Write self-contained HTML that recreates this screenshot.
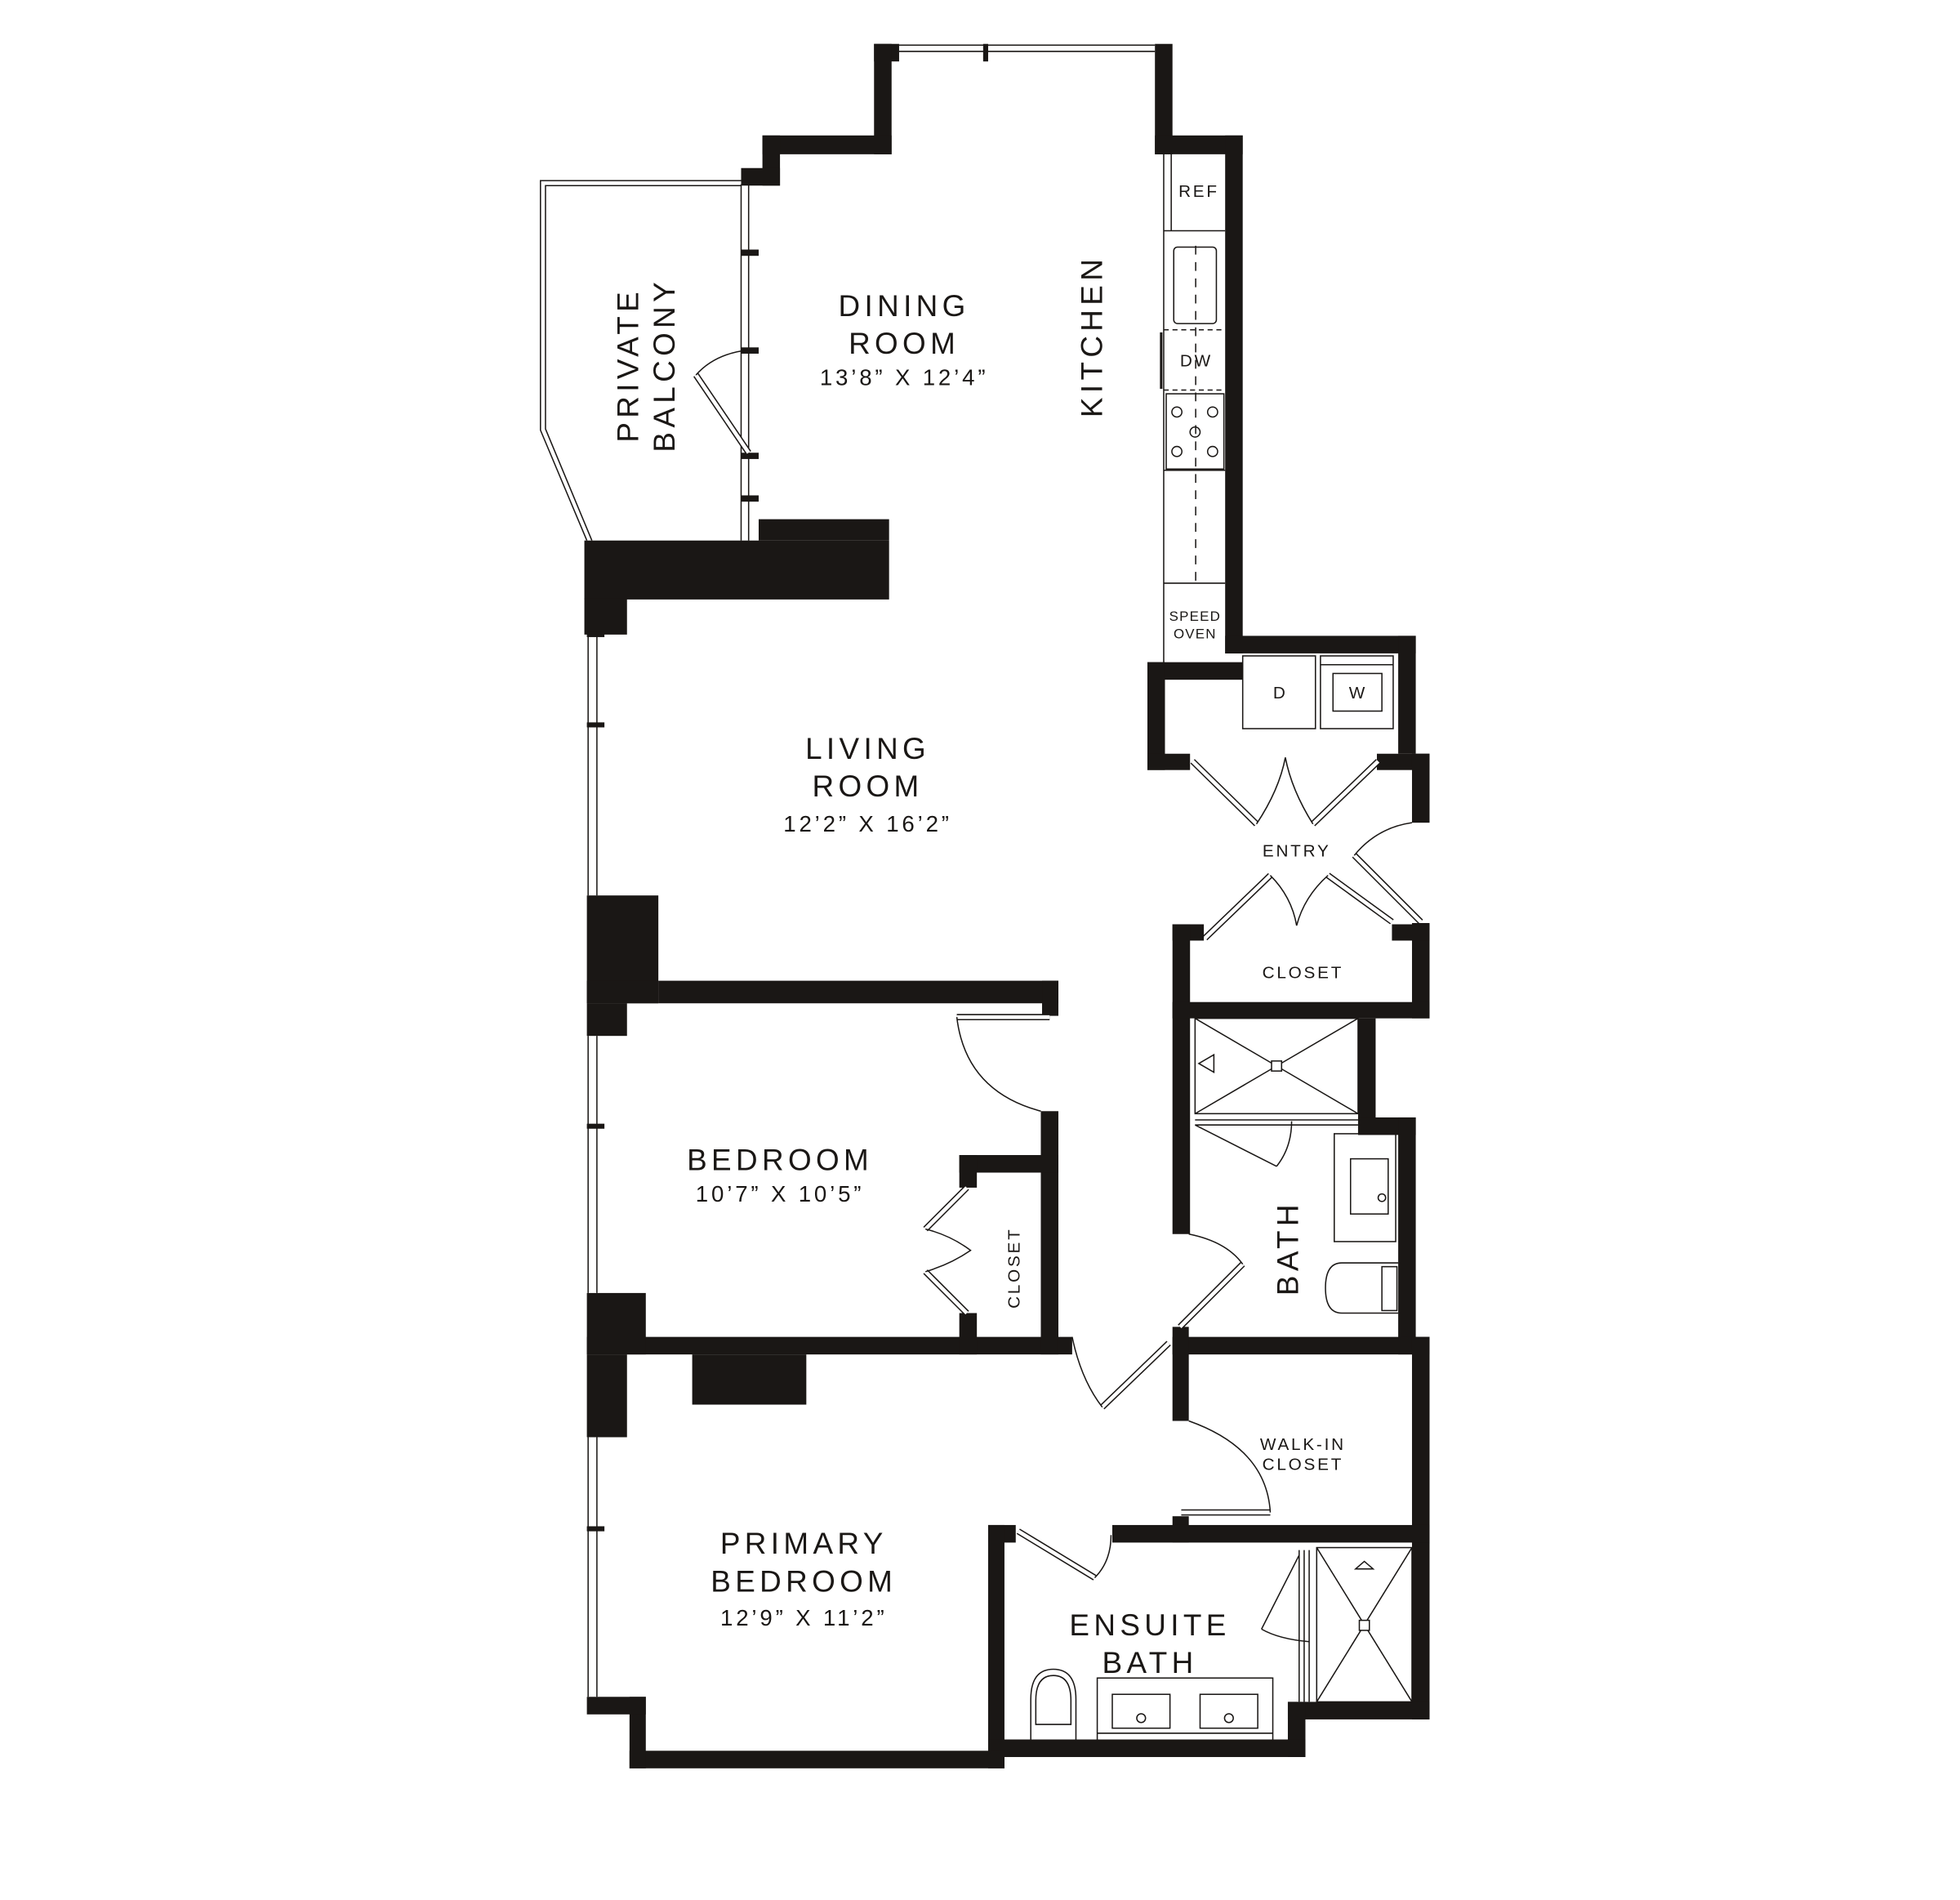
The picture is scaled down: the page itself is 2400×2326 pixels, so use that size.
<!DOCTYPE html>
<html><head><meta charset="utf-8">
<style>
html,body{margin:0;padding:0;background:#fff;}
svg{display:block;}
text{font-family:"Liberation Sans",sans-serif;fill:#1a1715;text-anchor:middle;}
.rn{font-size:24px;letter-spacing:3.5px;}
.dm{font-size:18px;letter-spacing:2.5px;}
.sm{font-size:13.5px;letter-spacing:1.8px;}
.xs{font-size:11px;letter-spacing:0.8px;}
.t{fill:none;stroke:#1a1715;stroke-width:1;}
.leaf{stroke:#1a1715;stroke-width:5;}
.leafw{stroke:#fff;stroke-width:3;}
</style></head>
<body>
<svg width="2400" height="2326" viewBox="0 0 1563 1515" preserveAspectRatio="none" xmlns="http://www.w3.org/2000/svg">
<rect x="0" y="0" width="1563" height="1515" fill="#fff"/>
<g fill="#1a1715">
<!-- north alcove -->
<rect x="697" y="35" width="20" height="14"/>
<rect x="697" y="35" width="14" height="88"/>
<rect x="608" y="108" width="103" height="15"/>
<rect x="608" y="108" width="14" height="40"/>
<rect x="591" y="134" width="31" height="14"/>
<rect x="921" y="35" width="14" height="88"/>
<rect x="921" y="108" width="70" height="15"/>
<rect x="977" y="108" width="14" height="413"/>
<rect x="977" y="507" width="152" height="14"/>
<rect x="1115" y="507" width="14" height="94"/>
<rect x="1098" y="601" width="42" height="13"/>
<rect x="1126" y="601" width="14" height="55"/>
<!-- laundry left -->
<rect x="915" y="528" width="76" height="14"/>
<rect x="915" y="528" width="14" height="86"/>
<rect x="915" y="601" width="34" height="13"/>
<!-- entry closet -->
<rect x="1126" y="736" width="14" height="76"/>
<rect x="1110" y="737" width="30" height="13"/>
<rect x="935" y="737" width="25" height="13"/>
<rect x="935" y="737" width="14" height="247"/>
<rect x="935" y="799" width="205" height="13"/>
<!-- bath -->
<rect x="1083" y="812" width="14" height="92"/>
<rect x="1083" y="891" width="46" height="14"/>
<rect x="1115" y="891" width="14" height="189"/>
<rect x="935" y="1066" width="205" height="14"/>
<rect x="1126" y="1066" width="14" height="165"/>
<rect x="935" y="1058" width="13" height="75"/>
<rect x="935" y="1209" width="13" height="21"/>
<rect x="887" y="1216" width="253" height="14"/>
<rect x="788" y="1216" width="22" height="14"/>
<rect x="788" y="1216" width="13" height="194"/>
<rect x="1126" y="1230" width="14" height="141"/>
<rect x="1027" y="1357" width="113" height="14"/>
<rect x="1027" y="1357" width="14" height="44"/>
<rect x="788" y="1387" width="253" height="14"/>
<!-- primary -->
<rect x="502" y="1396" width="299" height="14"/>
<rect x="502" y="1353" width="13" height="57"/>
<rect x="468" y="1353" width="47" height="14"/>
<rect x="468" y="1066" width="387" height="14"/>
<rect x="468" y="1031" width="47" height="49"/>
<rect x="468" y="1080" width="32" height="66"/>
<rect x="552" y="1080" width="91" height="40"/>
<!-- bedroom -->
<rect x="830" y="886" width="14" height="194"/>
<rect x="765" y="921" width="79" height="14"/>
<rect x="765" y="921" width="14" height="26"/>
<rect x="765" y="1047" width="14" height="33"/>
<rect x="525" y="782" width="319" height="18"/>
<rect x="831" y="782" width="13" height="28"/>
<rect x="468" y="714" width="57" height="86"/>
<rect x="468" y="782" width="57" height="18"/>
<rect x="468" y="800" width="32" height="26"/>
<!-- living/dining block -->
<rect x="466" y="431" width="243" height="47"/>
<rect x="605" y="414" width="104" height="17"/>
<rect x="466" y="477" width="34" height="29"/>
</g>

<!-- windows -->
<g class="t">
<line x1="717" y1="36" x2="921" y2="36"/><line x1="717" y1="41" x2="921" y2="41"/>
<line x1="591" y1="147" x2="591" y2="431"/><line x1="597" y1="147" x2="597" y2="431"/>
<line x1="469" y1="506" x2="469" y2="714"/><line x1="476" y1="506" x2="476" y2="714"/>
<line x1="469" y1="826" x2="469" y2="1031"/><line x1="476" y1="826" x2="476" y2="1031"/>
<line x1="469" y1="1146" x2="469" y2="1353"/><line x1="476" y1="1146" x2="476" y2="1353"/>
<!-- balcony -->
<polyline points="591,144 431,144 431,343 468,431"/>
<polyline points="591,148 435,148 435,342 472,431"/>
</g>
<g fill="#1a1715">
<rect x="784" y="35" width="4" height="14"/>
<rect x="591" y="199" width="14" height="5"/>
<rect x="591" y="277" width="14" height="5"/>
<rect x="591" y="361" width="14" height="5"/>
<rect x="591" y="395" width="14" height="5"/>
<rect x="468" y="576" width="14" height="4"/>
<rect x="468" y="896" width="14" height="4"/>
<rect x="468" y="1217" width="14" height="4"/>
<rect x="468" y="504" width="14" height="4"/>
</g>

<!-- door leaves -->
<g>
<g class="leaf"><line x1="597" y1="361" x2="555" y2="299"/><line x1="951" y1="607" x2="1002" y2="657"/><line x1="1099" y1="607" x2="1047" y2="657"/><line x1="961" y1="748" x2="1013" y2="698"/><line x1="1110" y1="735" x2="1059" y2="698"/><line x1="1133" y1="735" x2="1080" y2="682"/><line x1="771" y1="947" x2="738" y2="980"/><line x1="771" y1="1047" x2="738" y2="1014"/><line x1="941" y1="1058" x2="991" y2="1008"/><line x1="932" y1="1071" x2="879" y2="1122"/><line x1="942" y1="1206" x2="1013" y2="1206"/><line x1="812" y1="1221" x2="873" y2="1258"/><line x1="763" y1="811" x2="837" y2="811"/></g>
<g class="leafw"><line x1="597" y1="361" x2="555" y2="299"/><line x1="951" y1="607" x2="1002" y2="657"/><line x1="1099" y1="607" x2="1047" y2="657"/><line x1="961" y1="748" x2="1013" y2="698"/><line x1="1110" y1="735" x2="1059" y2="698"/><line x1="1133" y1="735" x2="1080" y2="682"/><line x1="771" y1="947" x2="738" y2="980"/><line x1="771" y1="1047" x2="738" y2="1014"/><line x1="941" y1="1058" x2="991" y2="1008"/><line x1="932" y1="1071" x2="879" y2="1122"/><line x1="942" y1="1206" x2="1013" y2="1206"/><line x1="812" y1="1221" x2="873" y2="1258"/><line x1="763" y1="811" x2="837" y2="811"/></g>
</g>
<!-- door arcs -->
<g class="t">
<path d="M555,299 Q570,282 597,279"/>
<path d="M1002,657 Q1020,630 1025,604 Q1030,630 1047,657"/>
<path d="M1013,698 Q1030,715 1034,738 Q1040,715 1059,698"/>
<path d="M1080,682 Q1098,660 1126,656"/>
<path d="M738,980 Q758,985 774,997 Q758,1008 738,1014"/>
<path d="M991,1008 Q978,990 948,984"/>
<path d="M879,1122 Q862,1100 855,1066"/>
<path d="M1013,1206 Q1010,1155 948,1133"/>
<path d="M873,1258 Q886,1245 886,1224"/>
<path d="M763,811 Q770,870 830,886"/>
</g>

<!-- kitchen -->
<g class="t">
<line x1="928" y1="122" x2="928" y2="528"/>
<line x1="934" y1="122" x2="934" y2="184"/>
<line x1="928" y1="184" x2="977" y2="184"/>
<line x1="928" y1="465" x2="977" y2="465"/>
<line x1="928" y1="375" x2="977" y2="375"/>
<rect x="936" y="197" width="34" height="61" rx="3"/>
<rect x="930" y="314" width="46" height="60"/>
<circle cx="938.5" cy="328.5" r="4"/><circle cx="967" cy="328.5" r="4"/>
<circle cx="938.5" cy="360" r="4"/><circle cx="967" cy="360" r="4"/><circle cx="953" cy="344.5" r="4"/>
<line x1="953.5" y1="196" x2="953.5" y2="465" stroke-dasharray="7,6"/>
<line x1="928" y1="263" x2="977" y2="263" stroke-dasharray="4,3"/>
<line x1="928" y1="311" x2="977" y2="311" stroke-dasharray="4,3"/>
<line x1="926" y1="265" x2="926" y2="310" stroke-width="2"/>
<!-- laundry -->
<rect x="991" y="523" width="58" height="58"/>
<rect x="1053" y="523" width="58" height="58"/>
<line x1="1053" y1="530" x2="1111" y2="530"/>
<rect x="1063" y="537" width="39" height="30"/>
<!-- bath shower -->
<rect x="953" y="812" width="130" height="76"/>
<line x1="953" y1="812" x2="1018" y2="850"/><line x1="1083" y1="812" x2="1018" y2="850"/>
<line x1="953" y1="888" x2="1018" y2="850"/><line x1="1083" y1="888" x2="1018" y2="850"/>
<rect x="1014" y="846" width="8" height="8" fill="#fff"/>
<path d="M956,848 l12,-7 v14 z"/>
<line x1="953" y1="893" x2="1083" y2="893"/>
<line x1="953" y1="897" x2="1083" y2="897"/>
<line x1="953" y1="897" x2="1018" y2="930"/>
<path d="M1018,930 Q1030,915 1030,894"/>
<rect x="1064" y="904" width="49" height="86"/>
<rect x="1077" y="924" width="30" height="44"/>
<circle cx="1102" cy="955" r="3"/>
<path d="M1115,1007 H1070 Q1057,1007 1057,1027 Q1057,1047 1070,1047 H1115"/>
<rect x="1102" y="1010" width="12" height="35"/>
<!-- ensuite -->
<line x1="1036" y1="1236" x2="1036" y2="1357"/>
<line x1="1040" y1="1236" x2="1040" y2="1357"/>
<line x1="1044" y1="1236" x2="1044" y2="1357"/>
<rect x="1050" y="1234" width="76" height="123"/>
<line x1="1050" y1="1234" x2="1126" y2="1357"/><line x1="1126" y1="1234" x2="1050" y2="1357"/>
<rect x="1084" y="1292" width="8" height="8" fill="#fff"/>
<path d="M1088,1245 l-7,6 h14 z"/>
<line x1="1036" y1="1240" x2="1006" y2="1299"/>
<path d="M1006,1299 Q1020,1307 1044,1309"/>
<rect x="875" y="1338" width="140" height="50"/>
<line x1="875" y1="1382" x2="1015" y2="1382"/>
<rect x="887" y="1351" width="46" height="27"/>
<rect x="957" y="1351" width="46" height="27"/>
<circle cx="910" cy="1370" r="3.5"/><circle cx="980" cy="1370" r="3.5"/>
<path d="M822,1387 V1355 Q822,1331 840,1331 Q858,1331 858,1355 V1387"/>
<path d="M826,1375 V1356 Q826,1336 840,1336 Q854,1336 854,1356 V1375 Z"/>
</g>

<!-- labels -->
<text class="rn" transform="translate(509,291) rotate(-90)">PRIVATE</text>
<text class="rn" transform="translate(538,291) rotate(-90)">BALCONY</text>
<text class="rn" x="721" y="252">DINING</text>
<text class="rn" x="721" y="282">ROOM</text>
<text class="dm" x="721" y="307">13’8”  X  12’4”</text>
<text class="rn" transform="translate(879,268) rotate(-90)">KITCHEN</text>
<text class="sm" x="956" y="157">REF</text>
<text class="sm" x="954" y="292">DW</text>
<text class="xs" x="953" y="495">SPEED</text>
<text class="xs" x="953" y="509">OVEN</text>
<text class="rn" x="692" y="605">LIVING</text>
<text class="rn" x="692" y="635">ROOM</text>
<text class="dm" x="692" y="663">12’2”  X  16’2”</text>
<text class="sm" x="1021" y="557">D</text>
<text class="sm" x="1083" y="557">W</text>
<text class="sm" x="1034" y="683">ENTRY</text>
<text class="sm" x="1039" y="780">CLOSET</text>
<text class="rn" x="622" y="933">BEDROOM</text>
<text class="dm" x="622" y="958">10’7”  X  10’5”</text>
<text class="sm" transform="translate(813,1011) rotate(-90)">CLOSET</text>
<text class="rn" transform="translate(1035,995) rotate(-90)">BATH</text>
<text class="sm" x="1039" y="1156">WALK-IN</text>
<text class="sm" x="1039" y="1172">CLOSET</text>
<text class="rn" x="641" y="1239">PRIMARY</text>
<text class="rn" x="641" y="1269">BEDROOM</text>
<text class="dm" x="641" y="1296">12’9”  X  11’2”</text>
<text class="rn" x="917" y="1304">ENSUITE</text>
<text class="rn" x="917" y="1334">BATH</text>
</svg>
</body></html>
